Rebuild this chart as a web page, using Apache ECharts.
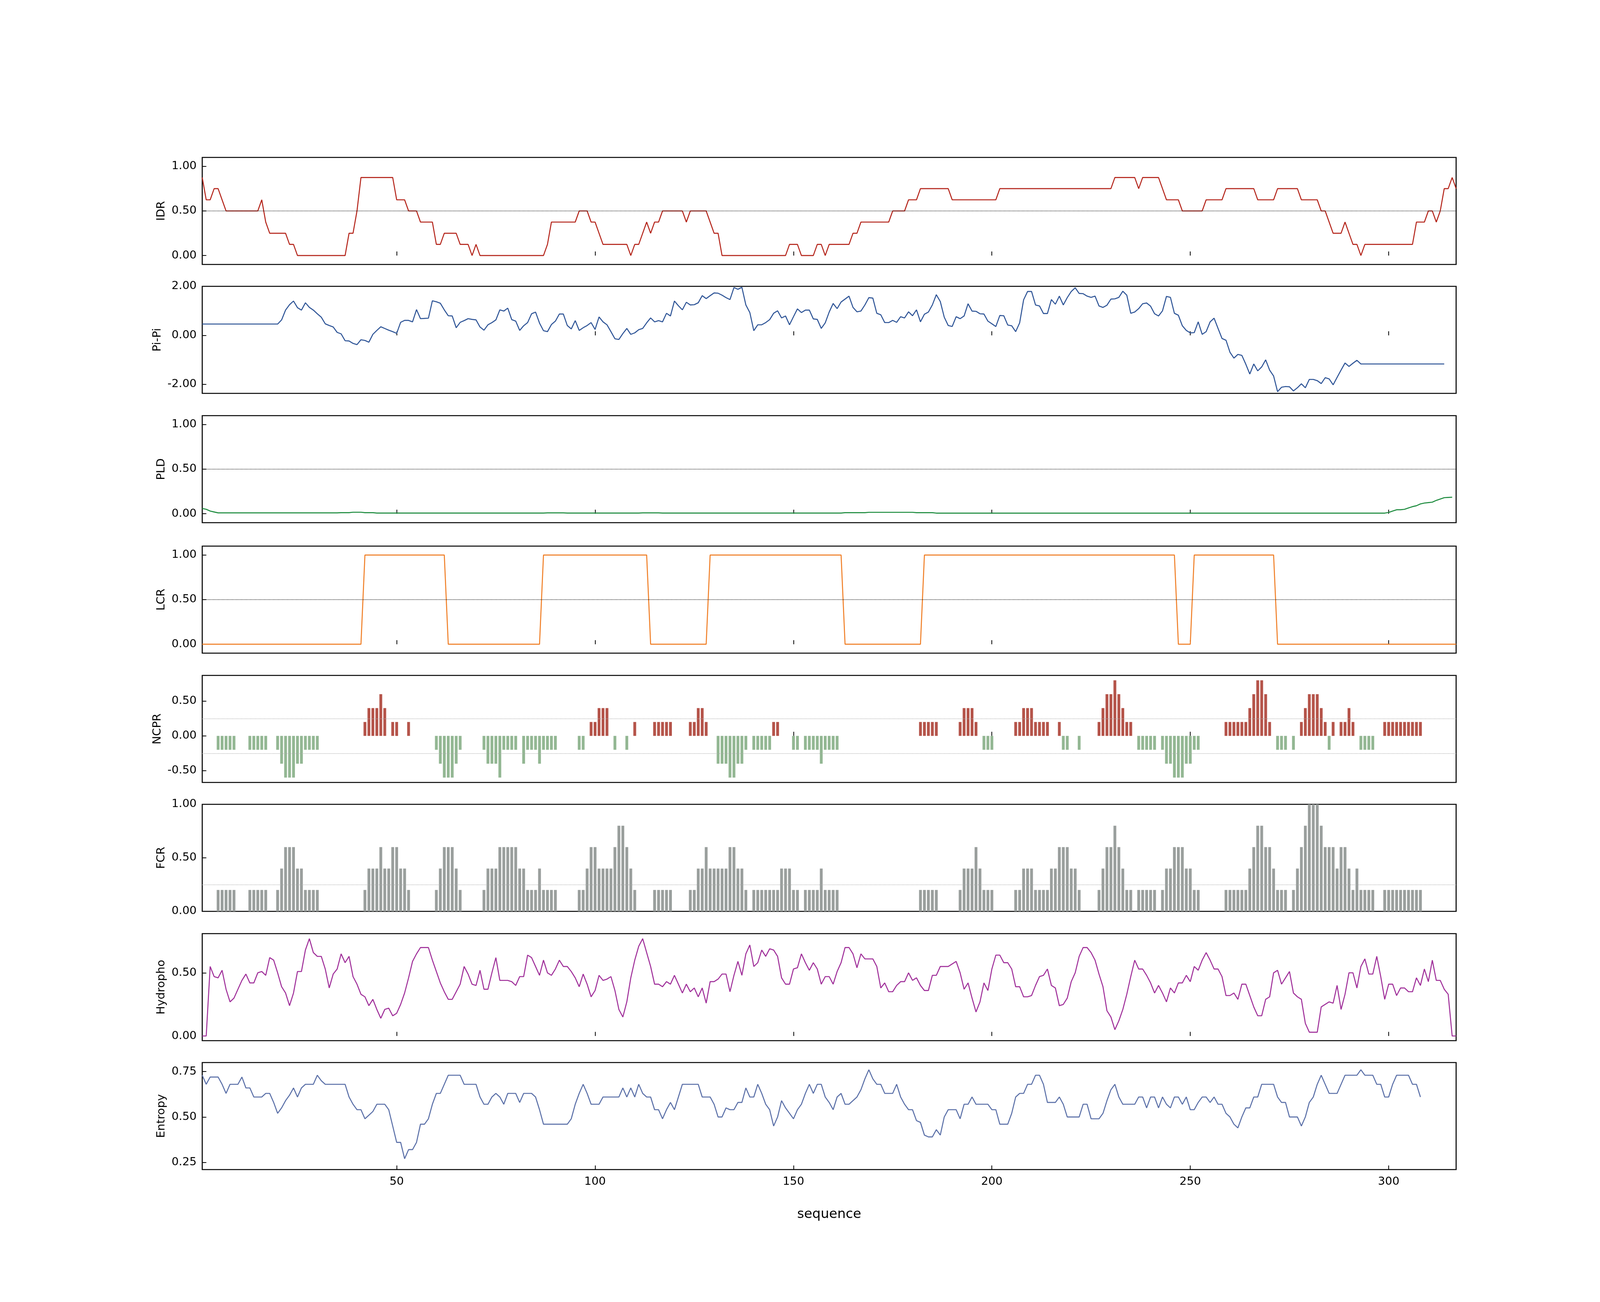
<!DOCTYPE html>
<html><head><meta charset="utf-8">
<script src="https://cdn.jsdelivr.net/npm/echarts@6/dist/echarts.min.js"></script>
<style>html,body{margin:0;padding:0;background:#fff;overflow:hidden}#c{width:100vw;height:100vh}</style>
</head><body><div id="c"></div>
<script>
// Step-like tracks as [value, run length] readings along the sequence (positions 1..317)
const idrRuns = [[0.875,1],[0.625,2],[0.75,2],[0.625,1],[0.5,9],[0.625,1],[0.375,1],[0.25,5],[0.125,2],[0,13],[0.25,2],[0.5,1],[0.875,9],[0.625,3],[0.5,3],[0.375,4],[0.125,2],[0.25,4],[0.125,3],[0,1],[0.125,1],[0,17],[0.125,1],[0.375,7],[0.5,3],[0.375,2],[0.25,1],[0.125,7],[0,1],[0.125,2],[0.25,1],[0.375,1],[0.25,1],[0.375,2],[0.5,6],[0.375,1],[0.5,5],[0.375,1],[0.25,2],[0,17],[0.125,3],[0,4],[0.125,2],[0,1],[0.125,6],[0.25,2],[0.375,8],[0.5,4],[0.625,3],[0.75,8],[0.625,12],[0.75,29],[0.875,6],[0.75,1],[0.875,5],[0.75,1],[0.625,4],[0.5,6],[0.625,5],[0.75,8],[0.625,5],[0.75,6],[0.625,5],[0.5,2],[0.375,1],[0.25,3],[0.375,1],[0.25,1],[0.125,2],[0,1],[0.125,13],[0.375,3],[0.5,2],[0.375,1],[0.5,1],[0.75,2],[0.875,1],[0.75,1]];
const lcrRuns = [[0,41],[1,21],[0,24],[1,27],[0,15],[1,34],[0,20],[1,64],[0,4],[1,21],[0,46]];
const pldRuns = [[0.06,1],[0.05,1],[0.03,1],[0.02,1],[0.01,31],[0.012,3],[0.017,3],[0.012,3],[0.008,43],[0.01,5],[0.008,19],[0.01,5],[0.008,46],[0.012,6],[0.016,12],[0.012,5],[0.007,114],[0.015,1],[0.03,1],[0.045,2],[0.05,1],[0.065,1],[0.08,1],[0.09,1],[0.11,1],[0.12,1],[0.125,1],[0.13,1],[0.15,1],[0.165,1],[0.18,1],[0.183,1],[0.185,1]];
const ncprRuns = [[0,4],[-0.2,5],[0,3],[-0.2,5],[0,2],[-0.2,1],[-0.4,1],[-0.6,3],[-0.4,2],[-0.2,4],[0,11],[0.2,1],[0.4,3],[0.6,1],[0.4,1],[0,1],[0.2,2],[0,2],[0.2,1],[0,6],[-0.2,1],[-0.4,1],[-0.6,3],[-0.4,1],[-0.2,1],[0,5],[-0.2,1],[-0.4,3],[-0.6,1],[-0.2,4],[0,1],[-0.4,1],[-0.2,3],[-0.4,1],[-0.2,4],[0,5],[-0.2,2],[0,1],[0.2,2],[0.4,3],[0,1],[-0.2,1],[0,2],[-0.2,1],[0,1],[0.2,1],[0,4],[0.2,5],[0,4],[0.2,2],[0.4,2],[0.2,1],[0,2],[-0.4,3],[-0.6,2],[-0.4,2],[-0.2,1],[0,1],[-0.2,5],[0.2,2],[0,3],[-0.2,2],[0,1],[-0.2,4],[-0.4,1],[-0.2,4],[0,20],[0.2,5],[0,5],[0.2,1],[0.4,3],[0.2,1],[0,1],[-0.2,3],[0,5],[0.2,2],[0.4,3],[0.2,4],[0,2],[0.2,1],[-0.2,2],[0,2],[-0.2,1],[0,4],[0.2,1],[0.4,1],[0.6,2],[0.8,1],[0.6,1],[0.4,1],[0.2,2],[0,1],[-0.2,5],[0,1],[-0.2,1],[-0.4,2],[-0.6,3],[-0.4,2],[-0.2,2],[0,6],[0.2,6],[0.4,1],[0.6,1],[0.8,2],[0.6,1],[0.2,1],[0,1],[-0.2,3],[0,1],[-0.2,1],[0,1],[0.2,1],[0.4,1],[0.6,3],[0.4,1],[0.2,1],[-0.2,1],[0.2,1],[0,1],[0.2,2],[0.4,1],[0.2,1],[0,1],[-0.2,4],[0,2],[0.2,10],[0,9]];
const fcrRuns = [[0,4],[0.2,5],[0,3],[0.2,5],[0,2],[0.2,1],[0.4,1],[0.6,3],[0.4,2],[0.2,4],[0,11],[0.2,1],[0.4,3],[0.6,1],[0.4,2],[0.6,2],[0.4,2],[0.2,1],[0,6],[0.2,1],[0.4,1],[0.6,3],[0.4,1],[0.2,1],[0,5],[0.2,1],[0.4,3],[0.6,5],[0.4,2],[0.2,3],[0.4,1],[0.2,4],[0,5],[0.2,2],[0.4,1],[0.6,2],[0.4,4],[0.6,1],[0.8,2],[0.6,1],[0.4,1],[0.2,1],[0,4],[0.2,5],[0,4],[0.2,2],[0.4,2],[0.6,1],[0.4,5],[0.6,2],[0.4,2],[0.2,1],[0,1],[0.2,7],[0.4,3],[0.2,2],[0,1],[0.2,4],[0.4,1],[0.2,4],[0,20],[0.2,5],[0,5],[0.2,1],[0.4,3],[0.6,1],[0.4,1],[0.2,3],[0,5],[0.2,2],[0.4,3],[0.2,4],[0.4,2],[0.6,3],[0.4,2],[0.2,1],[0,4],[0.2,1],[0.4,1],[0.6,2],[0.8,1],[0.6,1],[0.4,1],[0.2,2],[0,1],[0.2,5],[0,1],[0.2,1],[0.4,2],[0.6,3],[0.4,2],[0.2,2],[0,6],[0.2,6],[0.4,1],[0.6,1],[0.8,2],[0.6,2],[0.4,1],[0.2,3],[0,1],[0.2,1],[0.4,1],[0.6,1],[0.8,1],[1.0,3],[0.8,1],[0.6,3],[0.4,1],[0.6,2],[0.4,1],[0.2,1],[0.4,1],[0.2,4],[0,2],[0.2,10],[0,9]];
// Continuous tracks, one value per position starting at 1
const pipi = [0.46,0.46,0.46,0.46,0.46,0.46,0.46,0.46,0.46,0.46,0.46,0.46,0.46,0.46,0.46,0.46,0.46,0.46,0.46,0.46,
0.63,1.03,1.25,1.40,1.13,1.03,1.33,1.14,1.03,0.88,0.74,0.47,0.40,0.34,0.12,0.06,-0.22,-0.23,-0.33,-0.38,-0.18,-0.21,-0.28,0.04,0.20,0.35,0.28,0.21,0.15,0.08,
0.53,0.61,0.61,0.55,1.05,0.68,0.69,0.70,1.41,1.37,1.31,1.04,0.80,0.79,0.31,0.53,0.60,0.68,0.65,0.63,0.34,0.21,0.43,0.52,0.63,1.04,0.99,1.11,0.64,0.58,
0.20,0.39,0.52,0.88,0.95,0.50,0.19,0.15,0.44,0.58,0.87,0.87,0.40,0.26,0.60,0.20,0.31,0.40,0.52,0.24,0.75,0.55,0.43,0.15,-0.14,-0.17,0.07,0.28,0.04,0.10,
0.23,0.28,0.51,0.71,0.55,0.60,0.55,0.90,0.79,1.40,1.21,1.04,1.35,1.24,1.25,1.33,1.62,1.50,1.62,1.73,1.72,1.64,1.54,1.46,1.95,1.88,1.96,1.24,0.93,0.19,
0.43,0.43,0.52,0.64,0.90,1.00,0.71,0.79,0.43,0.76,1.08,0.93,1.03,1.03,0.67,0.65,0.28,0.51,0.95,1.30,1.09,1.36,1.48,1.60,1.14,0.96,0.99,1.24,1.54,1.52,
0.90,0.84,0.52,0.52,0.61,0.53,0.76,0.71,0.96,0.80,1.04,0.55,0.86,0.95,1.24,1.66,1.38,0.74,0.40,0.36,0.76,0.68,0.79,1.29,0.99,0.98,0.88,0.87,0.58,0.47,
0.36,0.81,0.80,0.42,0.39,0.15,0.51,1.45,1.79,1.79,1.24,1.20,0.89,0.89,1.46,1.27,1.60,1.24,1.54,1.79,1.94,1.71,1.70,1.60,1.55,1.60,1.20,1.14,1.23,1.48,
1.49,1.55,1.80,1.64,0.90,0.95,1.09,1.29,1.32,1.19,0.88,0.79,1.00,1.59,1.55,0.90,0.82,0.39,0.20,0.10,0.11,0.55,0.04,0.15,0.55,0.70,0.28,-0.13,-0.20,-0.69,
-0.93,-0.78,-0.82,-1.18,-1.58,-1.17,-1.45,-1.29,-1.00,-1.42,-1.66,-2.30,-2.12,-2.09,-2.10,-2.27,-2.14,-1.98,-2.14,-1.80,-1.80,-1.85,-1.97,-1.73,-1.78,-2.02,-1.72,-1.42,-1.13,-1.27,
-1.14,-1.02,-1.17,-1.17,-1.17,-1.17,-1.17,-1.17,-1.17,-1.17,-1.17,-1.17,-1.17,-1.17,-1.17,-1.17,-1.17,-1.17,-1.17,-1.17,-1.17,-1.17,-1.17,-1.17];
const hydro = [0,0,0.55,0.47,0.46,0.52,0.37,0.27,0.30,0.37,0.44,0.49,0.42,0.42,0.50,0.51,0.48,0.62,0.60,0.50,
0.39,0.34,0.24,0.34,0.51,0.51,0.68,0.77,0.66,0.63,0.63,0.53,0.38,0.49,0.53,0.65,0.58,0.63,0.47,0.41,0.33,0.31,0.24,0.29,0.21,0.14,0.21,0.22,0.16,0.18,
0.25,0.34,0.46,0.59,0.65,0.70,0.70,0.70,0.60,0.51,0.42,0.35,0.29,0.29,0.35,0.41,0.55,0.49,0.41,0.40,0.52,0.37,0.37,0.50,0.62,0.44,0.44,0.44,0.43,0.40,
0.47,0.47,0.64,0.62,0.55,0.48,0.60,0.50,0.48,0.53,0.60,0.55,0.55,0.51,0.46,0.39,0.49,0.41,0.31,0.36,0.48,0.44,0.45,0.47,0.36,0.21,0.15,0.27,0.46,0.60,
0.71,0.77,0.66,0.55,0.41,0.41,0.39,0.43,0.41,0.48,0.41,0.34,0.41,0.35,0.38,0.31,0.38,0.26,0.43,0.43,0.45,0.49,0.49,0.35,0.48,0.59,0.48,0.65,0.72,0.55,
0.58,0.68,0.63,0.69,0.68,0.63,0.46,0.41,0.41,0.53,0.54,0.65,0.58,0.52,0.58,0.53,0.41,0.47,0.47,0.41,0.51,0.58,0.70,0.70,0.65,0.54,0.65,0.61,0.61,0.61,
0.55,0.38,0.42,0.35,0.35,0.40,0.43,0.43,0.50,0.44,0.46,0.40,0.36,0.36,0.48,0.48,0.55,0.55,0.55,0.57,0.59,0.50,0.37,0.42,0.30,0.19,0.27,0.42,0.36,0.53,
0.64,0.64,0.58,0.58,0.53,0.39,0.39,0.31,0.31,0.32,0.40,0.47,0.48,0.53,0.40,0.38,0.24,0.25,0.30,0.43,0.50,0.63,0.70,0.70,0.66,0.60,0.49,0.39,0.20,0.15,
0.05,0.12,0.21,0.33,0.47,0.60,0.53,0.53,0.48,0.42,0.34,0.40,0.34,0.27,0.38,0.34,0.42,0.42,0.48,0.43,0.55,0.52,0.60,0.66,0.60,0.53,0.53,0.47,0.32,0.32,
0.34,0.29,0.41,0.41,0.32,0.23,0.16,0.16,0.29,0.31,0.50,0.52,0.41,0.46,0.51,0.34,0.31,0.29,0.10,0.03,0.03,0.03,0.23,0.25,0.27,0.26,0.40,0.21,0.33,0.50,
0.50,0.38,0.55,0.61,0.49,0.49,0.63,0.47,0.29,0.41,0.41,0.32,0.38,0.38,0.35,0.35,0.46,0.40,0.53,0.43,0.60,0.44,0.44,0.37,0.33,0,0];
const entropy = [0.73,0.68,0.72,0.72,0.72,0.68,0.63,0.68,0.68,0.68,0.72,0.66,0.66,0.61,0.61,0.61,0.63,0.63,0.58,0.52,
0.55,0.59,0.62,0.66,0.61,0.66,0.68,0.68,0.68,0.73,0.70,0.68,0.68,0.68,0.68,0.68,0.68,0.61,0.57,0.54,0.54,0.49,0.51,0.53,0.57,0.57,0.57,0.54,0.45,0.36,
0.36,0.27,0.32,0.32,0.36,0.46,0.46,0.49,0.57,0.63,0.63,0.68,0.73,0.73,0.73,0.73,0.68,0.68,0.68,0.68,0.61,0.57,0.57,0.61,0.63,0.61,0.57,0.63,0.63,0.63,
0.58,0.63,0.63,0.63,0.61,0.54,0.46,0.46,0.46,0.46,0.46,0.46,0.46,0.49,0.57,0.63,0.68,0.63,0.57,0.57,0.57,0.61,0.61,0.61,0.61,0.61,0.66,0.61,0.66,0.61,
0.68,0.63,0.61,0.61,0.54,0.54,0.49,0.54,0.58,0.54,0.61,0.68,0.68,0.68,0.68,0.68,0.61,0.61,0.61,0.57,0.50,0.50,0.55,0.54,0.54,0.58,0.58,0.66,0.61,0.61,
0.68,0.63,0.57,0.54,0.45,0.50,0.59,0.55,0.52,0.49,0.54,0.57,0.63,0.68,0.63,0.68,0.68,0.61,0.58,0.54,0.61,0.63,0.57,0.57,0.59,0.61,0.65,0.71,0.76,0.71,
0.68,0.68,0.63,0.63,0.63,0.68,0.61,0.57,0.54,0.54,0.48,0.47,0.40,0.39,0.39,0.43,0.40,0.50,0.54,0.54,0.54,0.49,0.57,0.57,0.61,0.57,0.57,0.57,0.57,0.54,
0.54,0.46,0.46,0.46,0.52,0.61,0.63,0.63,0.68,0.68,0.73,0.73,0.68,0.58,0.58,0.58,0.61,0.57,0.50,0.50,0.50,0.50,0.57,0.57,0.49,0.49,0.49,0.52,0.59,0.65,
0.68,0.61,0.57,0.57,0.57,0.57,0.61,0.61,0.55,0.61,0.61,0.55,0.61,0.57,0.55,0.61,0.61,0.57,0.61,0.54,0.54,0.58,0.61,0.61,0.58,0.61,0.57,0.57,0.52,0.50,
0.46,0.44,0.50,0.55,0.55,0.61,0.61,0.68,0.68,0.68,0.68,0.61,0.58,0.58,0.50,0.50,0.50,0.45,0.50,0.58,0.61,0.68,0.73,0.68,0.63,0.63,0.63,0.68,0.73,0.73,
0.73,0.73,0.76,0.73,0.73,0.73,0.68,0.68,0.61,0.61,0.68,0.73,0.73,0.73,0.73,0.68,0.68,0.61];
const xTicks = [50,100,150,200,250,300];
const panelNames = ['IDR','Pi-Pi','PLD','LCR','NCPR','FCR','Hydropho','Entropy'];
const yTicks = [[0,0.5,1],[-2,0,2],[0,0.5,1],[0,0.5,1],[-0.5,0,0.5],[0,0.5,1],[0,0.5],[0.25,0.5,0.75]];
const yRange = [[-0.1,1.1],[-2.37,2.0],[-0.1,1.1],[-0.1,1.1],[-0.67,0.87],[0,1.0],[-0.037,0.81],[0.21,0.80]];

function expand(runs){const out=[];runs.forEach(r=>{for(let k=0;k<r[1];k++)out.push(r[0]);});return out;}
function pts(arr){return arr.map((v,i)=>[i+1,v]);}

const el=document.getElementById('c');
const W=el.clientWidth||window.innerWidth, H=el.clientHeight||window.innerHeight;
const sx=W/6250, sy=H/3333, s=Math.min(sx,sy);
const tops=[403,733,1064,1398,1729,2059,2390,2720];
const grids=[],xAxes=[],yAxes=[],series=[];
tops.forEach((t,i)=>{
  grids.push({left:790*sx,top:t*sy,width:4898*sx,height:274*sy,show:true,borderColor:'#000',borderWidth:4*s,backgroundColor:'transparent'});
  const last=i===tops.length-1;
  xAxes.push({type:'value',gridIndex:i,min:1,max:317,axisLine:{show:false},splitLine:{show:false},
    axisTick:{show:true,inside:true,length:16*s,lineStyle:{color:'#000',width:3*s},customValues:xTicks},
    axisLabel:{show:last,customValues:xTicks,fontSize:44*s,color:'#000',fontFamily:'DejaVu Sans',margin:26*s},
    name:last?'sequence':'',nameLocation:'middle',nameGap:150*s,nameTextStyle:{fontSize:52*s,color:'#000',fontFamily:'DejaVu Sans'}});
  yAxes.push({type:'value',gridIndex:i,min:yRange[i][0],max:yRange[i][1],axisLine:{show:false},splitLine:{show:false},
    axisTick:{show:true,inside:true,length:16*s,lineStyle:{color:'#000',width:3*s},customValues:yTicks[i]},
    axisLabel:{customValues:yTicks[i],fontSize:44*s,color:'#000',fontFamily:'DejaVu Sans',margin:22*s,formatter:v=>v.toFixed(2)},
    name:panelNames[i],nameLocation:'middle',nameGap:122*s,nameRotate:90,nameTextStyle:{fontSize:44*s,color:'#000',fontFamily:'DejaVu Sans'}});
});
function ml(vals,color,w){return {silent:true,symbol:'none',label:{show:false},lineStyle:{type:'dotted',color:color,width:w*s},data:vals.map(v=>({yAxis:v}))};}
function line(i,data,color,mark){series.push({type:'line',xAxisIndex:i,yAxisIndex:i,data:pts(data),showSymbol:false,lineStyle:{color:color,width:4*s},itemStyle:{color:color},markLine:mark,z:3});}
line(0,expand(idrRuns),'#b5271d',ml([0.5],'#000',2.5));
line(1,pipi,'#2f5597');
line(2,expand(pldRuns),'#1e8c3f',ml([0.5],'#000',2.5));
line(3,expand(lcrRuns),'#f07f27',ml([0.5],'#000',2.5));
series.push({type:'bar',xAxisIndex:4,yAxisIndex:4,data:pts(expand(ncprRuns)),barWidth:11*sx,
  itemStyle:{color:p=>p.value[1]>=0?'#b5544a':'#93b793'},markLine:ml([0.25,-0.25],'#aaaaaa',2.5)});
series.push({type:'bar',xAxisIndex:5,yAxisIndex:5,data:pts(expand(fcrRuns)),barWidth:11*sx,
  itemStyle:{color:'#9a9f9d'},markLine:ml([0.25],'#aaaaaa',2.5)});
line(6,hydro,'#a0309a');
line(7,entropy,'#5b70a8');

const chart=echarts.init(el);
chart.setOption({backgroundColor:'#fff',animation:false,grid:grids,xAxis:xAxes,yAxis:yAxes,series:series});
</script></body></html>
